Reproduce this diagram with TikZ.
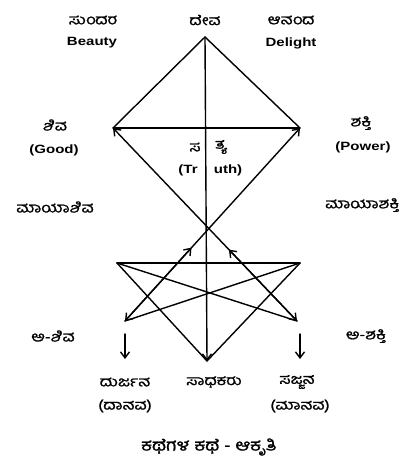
\documentclass[tikz,border=0pt]{standalone}
\usepackage{fontspec}
\setmainfont{Liberation Sans}
\newfontfamily\kn[Script=Kannada,FakeStretch=1.2,FakeBold=1.2]{Hind Mysuru}
\newfontfamily\lt[FakeStretch=1.25]{Liberation Sans}
\usetikzlibrary{arrows.meta,calc}
\tikzset{
  ln/.style={line width=1.4pt, line cap=round},
  tip/.style={-{Straight Barb[length=6pt,width=9pt,line width=1.4pt]}},
  kan/.style={font=\kn\fontsize{14}{15}\selectfont, inner sep=0pt},
  lat/.style={font=\lt\bfseries\fontsize{12}{13}\selectfont, inner sep=0pt},
}
\begin{document}
\begin{tikzpicture}[x=1pt,y=-1pt]
\useasboundingbox (0,0) rectangle (403,464);
% key points
\coordinate (T) at (205,37);
\coordinate (L) at (113,128);
\coordinate (R) at (300,128);
\coordinate (BL) at (125,321);
\coordinate (BR) at (297,321);
\coordinate (HL) at (117,263);
\coordinate (HR) at (300,263);
\coordinate (B) at (207,361);
% labels
\node[kan] (sund) at (93,20) {ಸುಂದರ};
\node[lat] (beau) at (92,43) {Beauty};
\node[kan] (deva) at (205,20) {ದೇವ};
\node[kan] (anan) at (291,20) {ಆನಂದ};
\node[lat] (deli) at (291,43) {Delight};
\node[kan] (shiva) at (55,125) {ಶಿವ};
\node[lat] (good) at (54,150) {(Good)};
\node[kan] (shak) at (361,123) {ಶಕ್ತಿ};
\node[lat] (powr) at (363,147) {(Power)};
\node[kan] (sa) at (195,147) {ಸ};
\node[kan] (tya) at (221,147) {ತ್ಯ};
\node[lat] (tr) at (188,170) {(Tr};
\node[lat] (uth) at (228,170) {uth)};
\node[kan] (mshiva) at (55,207) {ಮಾಯಾಶಿವ};
\node[kan, anchor=west] (mshak) at (325,205) {ಮಾಯಾಶಕ್ತಿ};
\node[kan] (ashiva) at (53,336) {ಅ-ಶಿವ};
\node[kan] (ashak) at (366,336) {ಅ-ಶಕ್ತಿ};
\node[kan] (durj) at (125,382) {ದುರ್ಜನ};
\node[kan] (dana) at (125,406) {(ದಾನವ)};
\node[kan] (sadh) at (214,382) {ಸಾಧಕರು};
\node[kan] (sajj) at (297,382) {ಸಜ್ಜನ};
\node[kan] (mana) at (300,406) {(ಮಾನವ)};
\node[kan, font=\kn\fontsize{16}{17}\selectfont] (cap) at (209,447) {ಕಥೆಗಳ ಕಥೆ - ಆಕೃತಿ};
% top triangle
\draw[ln] (L) -- (T) -- (R);
\draw[ln] (L) -- (R);
\draw[ln, tip] (T) -- (B);
% crossing lines with arrows
\draw[ln, tip] ($(L)!0.5!(BR)$) -- (L);
\draw[ln, tip] ($(L)!0.5!(BR)$) -- (BR);
\draw[ln, tip] ($(R)!0.5!(BL)$) -- (R);
\draw[ln, tip] ($(R)!0.5!(BL)$) -- (BL);
\draw[ln, tip] (BL) -- ($(BL)!0.38!(R)$);
\draw[ln, tip] (BR) -- ($(BR)!0.37!(L)$);
% lower star
\draw[ln] (HL) -- (HR);
\draw[ln] (HL) -- (B) -- (HR);
\draw[ln] (HL) -- (BR);
\draw[ln] (HR) -- (BL);
% small arrows
\coordinate (d1) at (125,334);
\coordinate (d2) at (300,334);
\draw[ln, tip] (d1) -- (d1 |- 0,359);
\draw[ln, tip] (d2) -- (d2 |- 0,359);
\end{tikzpicture}
\end{document}
